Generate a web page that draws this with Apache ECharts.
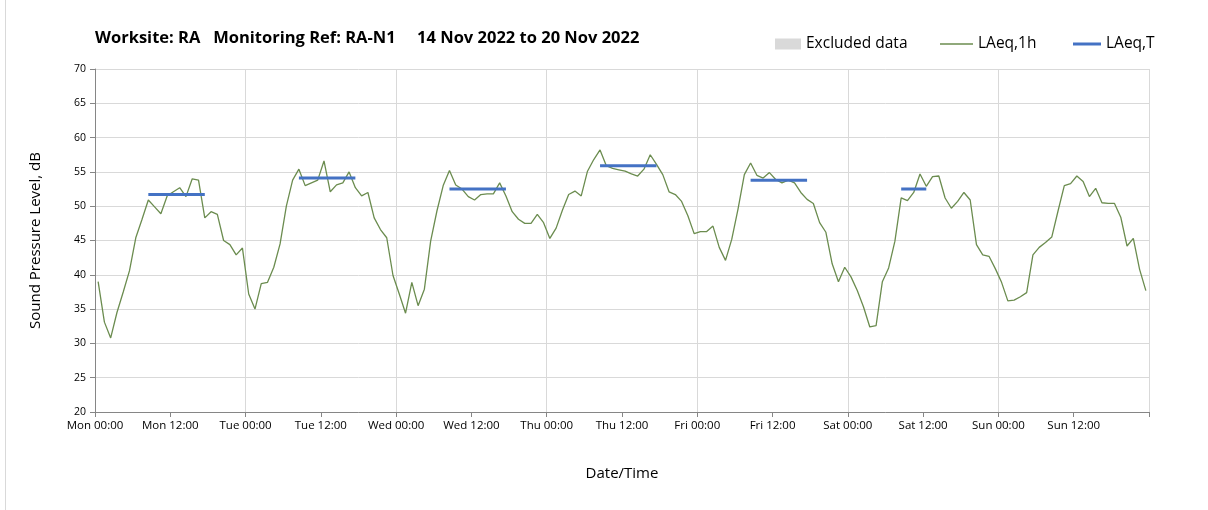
<!DOCTYPE html>
<html>
<head>
<meta charset="utf-8">
<script src="https://cdn.jsdelivr.net/npm/echarts@6/dist/echarts.min.js"></script>
<style>html,body{margin:0;padding:0;background:#fff;}#c{width:1208px;height:510px;}</style>
</head>
<body>
<div id="c"></div>
<script>
// Hourly LAeq,1h values, Mon 00:00 .. Sun 23:00
const mon = [39.0,33.1,30.8,34.5,37.5,40.6,45.4,48.1,50.9,49.9,48.9,51.5,52.1,52.7,51.4,54.0,53.8,48.3,49.2,48.8,45.0,44.4,42.9,43.9];
const tue = [37.2,35.0,38.7,38.9,41.1,44.5,50.0,53.8,55.4,53.0,53.4,53.8,56.6,52.1,53.1,53.4,55.0,52.7,51.5,52.0,48.3,46.6,45.4,39.9];
const wed = [37.2,34.4,38.9,35.5,37.9,44.9,49.3,53.0,55.2,53.1,52.5,51.4,50.9,51.7,51.8,51.8,53.4,51.5,49.2,48.1,47.5,47.5,48.8,47.6];
const thu = [45.3,46.8,49.4,51.7,52.2,51.5,55.1,56.8,58.2,55.9,55.5,55.3,55.1,54.7,54.4,55.4,57.5,56.1,54.6,52.1,51.7,50.7,48.6,46.0];
const fri = [46.3,46.3,47.1,44.0,42.1,45.2,49.6,54.6,56.3,54.5,54.1,54.9,53.9,53.4,53.8,53.4,52.0,51.0,50.4,47.6,46.2,41.6,39.0,41.1];
const sat = [39.7,37.7,35.3,32.4,32.6,39.0,41.0,44.9,51.2,50.8,52.0,54.7,52.9,54.3,54.4,51.2,49.7,50.7,52.0,50.9,44.4,42.9,42.7,40.9];
const sun = [38.9,36.2,36.3,36.8,37.4,42.9,44.0,44.7,45.5,49.3,53.0,53.3,54.4,53.6,51.4,52.6,50.5,50.4,50.4,48.4,44.2,45.3,40.8,37.7];

// LAeq,T periods (hour index of first and last hourly value) and levels
const periodStart = [8, 32, 56, 80, 104, 128];
const periodEnd   = [17, 41, 65, 89, 113, 132];
const periodLevel = [51.7, 54.1, 52.5, 55.9, 53.8, 52.5];

const dayNames = ['Mon','Tue','Wed','Thu','Fri','Sat','Sun'];
const yTicks = {min: 20, max: 70, step: 5};

const hourly = [].concat(mon, tue, wed, thu, fri, sat, sun);
const lineData = hourly.map((v, i) => [i + 0.5, v]);

const font = 'Open Sans';
const green = '#6b8c4f';
const blue = '#4472C4';

const series = [
  {name: 'Excluded data', type: 'bar', data: [], itemStyle: {color: '#d9d9d9'}},
  {name: 'LAeq,1h', type: 'line', data: lineData, showSymbol: false, symbol: 'none',
   lineStyle: {color: green, width: 1.3}, itemStyle: {color: green}, z: 3}
];
periodStart.forEach((s, k) => {
  series.push({
    name: 'LAeq,T', type: 'line', symbol: 'none', showSymbol: false,
    data: [[s + 0.5, periodLevel[k]], [periodEnd[k] + 0.5, periodLevel[k]]],
    lineStyle: {color: blue, width: 3}, itemStyle: {color: blue}, z: 4
  });
});

const legendText = {fontFamily: font, fontSize: 15.5, color: '#000'};

const chart = echarts.init(document.getElementById('c'), null, {renderer: 'canvas'});
chart.setOption({
  animation: false,
  backgroundColor: '#fff',
  title: {
    text: 'Worksite: RA   Monitoring Ref: RA-N1     14 Nov 2022 to 20 Nov 2022',
    left: 90, top: 25,
    textStyle: {fontFamily: 'Open Sans', fontWeight: 'bold', fontSize: 16.5, color: '#000'}
  },
  legend: [
    {data: [{name: 'Excluded data', icon: 'rect'}], left: 770, top: 31,
     itemWidth: 26, itemHeight: 11, itemGap: 10, textStyle: legendText},
    {data: [{name: 'LAeq,1h', icon: 'rect'}], left: 935, top: 31,
     itemWidth: 33, itemHeight: 1.3, textStyle: legendText},
    {data: [{name: 'LAeq,T', icon: 'rect'}], left: 1068, top: 31,
     itemWidth: 28, itemHeight: 3, textStyle: legendText}
  ],
  graphic: [{type: 'line', shape: {x1: 5.5, y1: 0, x2: 5.5, y2: 510}, style: {stroke: '#d9d9d9', lineWidth: 1}}],
  grid: {left: 95, right: 59, top: 69, bottom: 98, containLabel: false},
  xAxis: [
    {
      type: 'value', min: 0, max: 168, interval: 12,
      name: 'Date/Time', nameLocation: 'middle', nameGap: 54,
      nameTextStyle: {fontFamily: font, fontSize: 15, color: '#000'},
      axisLine: {lineStyle: {color: '#868686'}},
      axisTick: {show: true, length: 5, lineStyle: {color: '#868686'}},
      splitLine: {show: false},
      axisLabel: {
        fontFamily: font, fontSize: 11.5, color: '#000', margin: 8,
        formatter: v => v >= 168 ? '' : dayNames[Math.floor(v / 24)] + (v % 24 === 0 ? ' 00:00' : ' 12:00')
      }
    },
    {
      type: 'value', min: 0, max: 168, interval: 24, position: 'bottom',
      axisLine: {show: false}, axisTick: {show: false}, axisLabel: {show: false},
      splitLine: {show: true, lineStyle: {color: '#d9d9d9', width: 1}}
    }
  ],
  yAxis: {
    type: 'value', min: yTicks.min, max: yTicks.max, interval: yTicks.step,
    name: 'Sound Pressure Level, dB', nameLocation: 'middle', nameGap: 52,
    nameTextStyle: {fontFamily: font, fontSize: 15, color: '#000'},
    axisLine: {show: true, lineStyle: {color: '#868686'}},
    axisTick: {show: true, length: 5, lineStyle: {color: '#868686'}},
    axisLabel: {fontFamily: font, fontSize: 10.5, color: '#000', margin: 9},
    splitLine: {show: true, lineStyle: {color: '#d9d9d9', width: 1}}
  },
  series: series
});
</script>
</body>
</html>
